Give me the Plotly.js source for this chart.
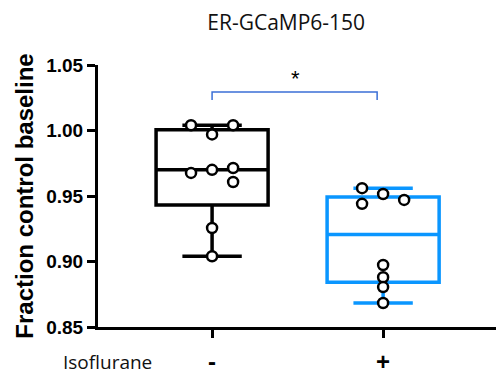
<!DOCTYPE html>
<html><head><meta charset="utf-8">
<script src="https://cdn.plot.ly/plotly-3.0.1.min.js"></script>
<style>html,body{margin:0;padding:0;background:#fff}#c{width:496px;height:377px}</style>
</head><body><div id="c"></div>
<script>
// Data
const groups = ['-', '+'];
const controlValues = [1.004, 1.004, 0.997, 0.9676, 0.970, 0.9714, 0.9607, 0.9256, 0.904];
const isoValues = [0.956, 0.9515, 0.947, 0.944, 0.8973, 0.888, 0.8805, 0.8683];
// horizontal dodge of dots (layout only)
const controlDodge = [-1, 1, 0, -1, 0, 1, 1, 0, 0];
const isoDodge = [-1, 0, 1, -1, 0, 0, 0, 0];

const DODGE = 0.123;
const colors = ['#000000', '#0a96ff'];
const sets = [controlValues, isoValues];
const dodges = [controlDodge, isoDodge];

const traces = [];
sets.forEach((vals, i) => {
  traces.push({
    type: 'box', y: vals, x: vals.map(() => i),
    boxpoints: false, quartilemethod: 'exclusive',
    width: 0.655, whiskerwidth: 0.53,
    line: {color: colors[i], width: 3.5},
    fillcolor: 'rgba(0,0,0,0)', hoverinfo: 'skip', showlegend: false
  });
});
sets.forEach((vals, i) => {
  traces.push({
    type: 'scatter', mode: 'markers',
    x: vals.map((v, k) => i + dodges[i][k] * DODGE), y: vals,
    marker: {size: 10, color: '#ffffff', line: {color: '#000000', width: 2.5}},
    showlegend: false, cliponaxis: false
  });
});

const layout = {
  width: 496, height: 377,
  margin: {l: 98, r: 0, t: 65, b: 50},
  paper_bgcolor: '#fff', plot_bgcolor: '#fff',
  showlegend: false,
  title: {text: 'ER-GCaMP6-150', x: 0.577, xanchor: 'center', y: 0.94, yanchor: 'middle',
          font: {family: 'Open Sans', size: 21, color: '#111'}},
  xaxis: {range: [-0.667, 1.66], tickvals: [0, 1], ticktext: groups,
          showline: true, linewidth: 3, linecolor: '#000', ticks: 'outside', ticklen: 8, tickwidth: 3, tickcolor: '#000',
          showgrid: false, zeroline: false, ticklabelstandoff: 3,
          tickfont: {family: 'Liberation Sans', size: 24, color: '#000', weight: 'bold'}},
  yaxis: {range: [0.85, 1.05], tickvals: [0.85, 0.90, 0.95, 1.00, 1.05], tickformat: '.2f',
          showline: true, linewidth: 3, linecolor: '#000', ticks: 'outside', ticklen: 8, tickwidth: 3, tickcolor: '#000',
          showgrid: false, zeroline: false,
          tickfont: {family: 'Liberation Sans', size: 19, color: '#000', weight: 'bold'},
          title: {text: 'Fraction control baseline', standoff: 6,
                  font: {family: 'Liberation Sans', size: 24, color: '#000', weight: 'bold'}}},
  shapes: [
    {type: 'path', xref: 'x', yref: 'y', path: 'M 0,1.0233 L 0,1.0294 L 0.965,1.0294 L 0.965,1.0233',
     line: {color: '#3b6fd6', width: 1.5}}
  ],
  annotations: [
    {text: '*', x: 0.485, y: 1.040, xref: 'x', yref: 'y', showarrow: false,
     font: {family: 'Liberation Sans', size: 22, color: '#000'}},
    {text: 'Isoflurane', xref: 'paper', yref: 'paper',
     x: (107 - 98) / 398, y: -(362 - 327) / 262, xanchor: 'center', yanchor: 'middle', showarrow: false,
     font: {family: 'Open Sans', size: 19, color: '#111'}}
  ]
};

Plotly.newPlot('c', traces, layout, {displayModeBar: false, staticPlot: true});
</script></body></html>
